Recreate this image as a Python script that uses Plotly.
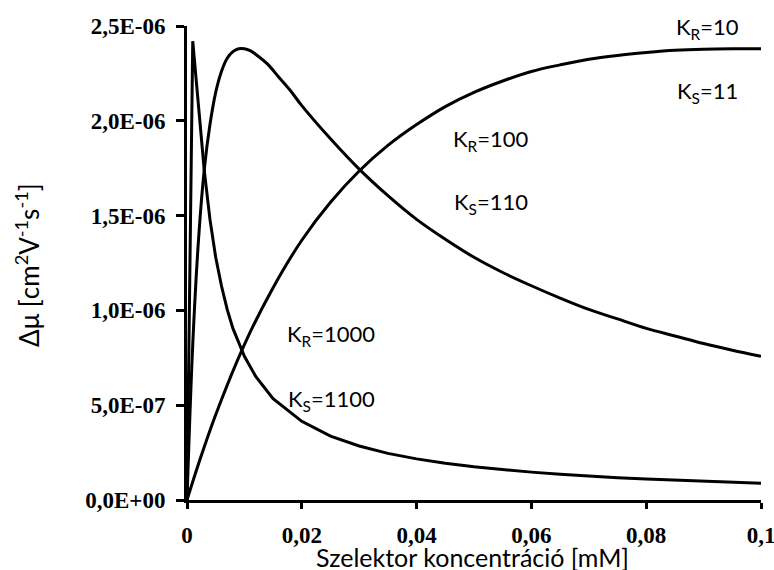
import plotly.graph_objects as go

# concentration [mM] and mobility difference [cm2 V-1 s-1]
x_k10 = [0, 0.002, 0.005, 0.01, 0.015, 0.02, 0.025, 0.03, 0.035, 0.04, 0.045, 0.05,
         0.055, 0.06, 0.065, 0.07, 0.075, 0.08, 0.085, 0.09, 0.095, 0.1]
y_k10 = [0, 0.19e-6, 0.45e-6, 0.82e-6, 1.12e-6, 1.37e-6, 1.57e-6, 1.735e-6, 1.87e-6, 1.98e-6,
         2.075e-6, 2.15e-6, 2.21e-6, 2.26e-6, 2.295e-6, 2.325e-6, 2.345e-6, 2.36e-6, 2.372e-6,
         2.378e-6, 2.38e-6, 2.38e-6]

x_k100 = [0, 0.001, 0.002, 0.003, 0.004, 0.005, 0.006, 0.007, 0.008, 0.009, 0.01, 0.011,
          0.012, 0.014, 0.016, 0.018, 0.02, 0.025, 0.03, 0.035, 0.04, 0.045, 0.05, 0.055,
          0.06, 0.065, 0.07, 0.075, 0.08, 0.085, 0.09, 0.095, 0.1]
y_k100 = [0, 0.82e-6, 1.37e-6, 1.74e-6, 1.98e-6, 2.15e-6, 2.26e-6, 2.33e-6, 2.365e-6, 2.38e-6,
          2.38e-6, 2.37e-6, 2.35e-6, 2.30e-6, 2.23e-6, 2.16e-6, 2.08e-6, 1.905e-6, 1.745e-6,
          1.605e-6, 1.48e-6, 1.375e-6, 1.28e-6, 1.20e-6, 1.13e-6, 1.065e-6, 1.005e-6, 0.955e-6,
          0.905e-6, 0.865e-6, 0.825e-6, 0.79e-6, 0.758e-6]

x_k1000 = [0, 0.001, 0.002, 0.003, 0.004, 0.005, 0.006, 0.007, 0.008, 0.009, 0.01, 0.012,
           0.015, 0.02, 0.025, 0.03, 0.035, 0.04, 0.045, 0.05, 0.055, 0.06, 0.065, 0.07,
           0.075, 0.08, 0.085, 0.09, 0.095, 0.1]
y_k1000 = [0, 2.42e-6, 2.08e-6, 1.74e-6, 1.48e-6, 1.28e-6, 1.13e-6, 1.005e-6, 0.905e-6,
           0.826e-6, 0.758e-6, 0.65e-6, 0.535e-6, 0.415e-6, 0.337e-6, 0.285e-6, 0.246e-6,
           0.217e-6, 0.194e-6, 0.175e-6, 0.16e-6, 0.147e-6, 0.136e-6, 0.126e-6, 0.118e-6,
           0.111e-6, 0.105e-6, 0.099e-6, 0.094e-6, 0.089e-6]

x_tickvals = [0, 0.02, 0.04, 0.06, 0.08, 0.1]
x_ticktext = ["0", "0,02", "0,04", "0,06", "0,08", "0,1"]
y_tickvals = [0, 0.5e-6, 1.0e-6, 1.5e-6, 2.0e-6, 2.5e-6]
y_ticktext = ["0,0E+00", "5,0E-07", "1,0E-06", "1,5E-06", "2,0E-06", "2,5E-06"]

# curve labels: (text, x in paper, y in paper)
labels = [
    ("K<sub>R</sub>=10", 0.906, 0.996),
    ("K<sub>S</sub>=11", 0.906, 0.861),
    ("K<sub>R</sub>=100", 0.530, 0.760),
    ("K<sub>S</sub>=110", 0.530, 0.627),
    ("K<sub>R</sub>=1000", 0.251, 0.348),
    ("K<sub>S</sub>=1100", 0.251, 0.211),
]

LBL_FONT = "Lato, 'Open Sans', sans-serif"
TICK_FONT = "'Liberation Serif', 'DejaVu Serif', serif"

fig = go.Figure()
for xs, ys, shp in [(x_k10, y_k10, "spline"), (x_k100, y_k100, "spline"),
                    (x_k1000, y_k1000, "linear")]:
    fig.add_trace(go.Scatter(x=xs, y=ys, mode="lines",
                             line=dict(color="black", width=3, shape=shp),
                             showlegend=False, hoverinfo="skip", cliponaxis=False))

for txt, lx, ly in labels:
    fig.add_annotation(x=lx, y=ly, xref="paper", yref="paper", text=txt, showarrow=False,
                       font=dict(family=LBL_FONT, size=22, color="black"),
                       xanchor="center", yanchor="middle")

fig.add_annotation(text="Szelektor koncentráció [mM]", x=0.497, y=-0.121,
                   xref="paper", yref="paper", showarrow=False,
                   font=dict(family=LBL_FONT, size=25, color="black"),
                   xanchor="center", yanchor="middle")
fig.add_annotation(text="Δμ [cm<sup>2</sup>V<sup>-1</sup>s<sup>-1</sup>]", x=-0.277, y=0.496,
                   xref="paper", yref="paper", showarrow=False, textangle=-90,
                   font=dict(family=LBL_FONT, size=26, color="black"),
                   xanchor="center", yanchor="middle")

fig.update_layout(
    width=774, height=570,
    margin=dict(l=187, r=13, t=26, b=70, autoexpand=False),
    paper_bgcolor="white", plot_bgcolor="white",
    xaxis=dict(range=[0, 0.1], tickvals=x_tickvals, ticktext=x_ticktext, automargin=False,
               showgrid=False, zeroline=False, showline=True, linecolor="black", linewidth=3,
               ticks="outside", ticklen=6, tickwidth=3, tickcolor="black", ticklabelstandoff=6,
               ticklabeloverflow="allow",
               tickfont=dict(family=TICK_FONT, size=23, color="black", weight="bold")),
    yaxis=dict(range=[0, 2.5e-6], tickvals=y_tickvals, ticktext=y_ticktext, automargin=False,
               showgrid=False, zeroline=False, showline=True, linecolor="black", linewidth=3,
               ticks="outside", ticklen=8, tickwidth=3, tickcolor="black", ticklabelstandoff=6,
               ticklabeloverflow="allow",
               tickfont=dict(family=TICK_FONT, size=23, color="black", weight="bold")),
)

fig.write_html("out.html", config={"displayModeBar": False},
               post_script="document.body.style.margin='0';")
